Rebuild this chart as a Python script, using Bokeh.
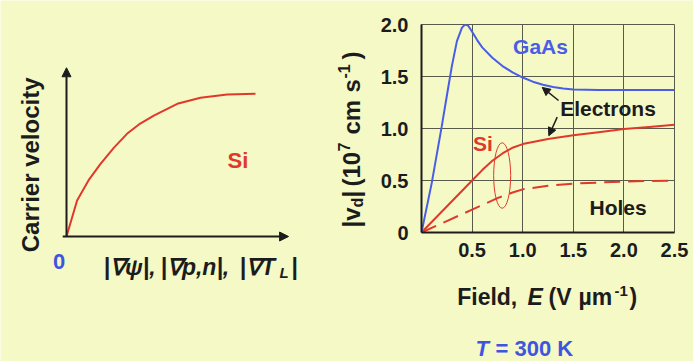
import math
from bokeh.plotting import figure
from bokeh.models import Label, Arrow, NormalHead, Range1d, FixedTicker, CustomJSTickFormatter
from bokeh.embed import file_html
from bokeh.resources import INLINE

BG = "#f4f9c6"
RED = "#e0392b"
BLUE = "#4a5de6"
TBLUE = "#3f55e0"
TXT = "#1c1c1c"
GRID = "#585b4a"
FONT = "Liberation Sans"

# ---------------- data ----------------
# left schematic: carrier velocity vs driving force (arbitrary units)
schem_force = [0, 0.056, 0.12, 0.18, 0.25, 0.32, 0.39, 0.462, 0.586, 0.709, 0.85, 1.0]
schem_vel = [0, 0.252, 0.40, 0.508, 0.62, 0.718, 0.79, 0.846, 0.928, 0.97, 0.993, 0.998]

# right: drift velocity (1e7 cm/s) vs field (V/um), T = 300 K
gaas_field = [0, 0.1, 0.2, 0.26, 0.3, 0.35, 0.4, 0.43, 0.46, 0.5, 0.55, 0.6, 0.7, 0.8,
              0.9, 1.0, 1.1, 1.2, 1.3, 1.4, 1.5, 1.75, 2.0, 2.25, 2.5]
gaas_vel = [0, 0.47, 1.02, 1.37, 1.6, 1.84, 1.97, 2.0, 1.99, 1.93, 1.85, 1.78, 1.68, 1.60,
            1.54, 1.49, 1.45, 1.42, 1.40, 1.385, 1.375, 1.37, 1.37, 1.37, 1.37]
si_e_field = [0, 0.25, 0.5, 0.6, 0.7, 0.8, 0.9, 1.0, 1.25, 1.5, 1.75, 2.0, 2.25, 2.5]
si_e_vel = [0, 0.25, 0.5, 0.6, 0.69, 0.76, 0.815, 0.85, 0.90, 0.935, 0.965, 0.995, 1.015, 1.035]
si_h_field = [0, 0.25, 0.5, 0.75, 0.9, 1.0, 1.25, 1.5, 1.75, 2.0, 2.25, 2.5]
si_h_vel = [0, 0.11, 0.22, 0.33, 0.385, 0.415, 0.45, 0.47, 0.48, 0.49, 0.495, 0.50]

x_ticks = [0.5, 1.0, 1.5, 2.0, 2.5]
x_tick_labels = ["0.5", "1.0", "1.5", "2.0", "2.5"]
y_ticks = [0, 0.5, 1.0, 1.5, 2.0]
y_tick_labels = ["0", "0.5", "1.0", "1.5", "2.0"]

# ---------------- base figure (schematic + free texts) ----------------
W, H = 693, 361
OX, OY, SX, SY = 66, 236, 189, 143          # schematic origin (px) and px per unit


def bx(px):
    return (px - OX) / SX


def by(py):
    return (OY - py) / SY


base = figure(width=W, height=H, output_backend="svg", toolbar_location=None,
              x_range=Range1d(bx(0), bx(W)), y_range=Range1d(by(H), by(0)),
              x_axis_type=None, y_axis_type=None,
              min_border=0, min_border_left=0, min_border_right=0,
              min_border_top=0, min_border_bottom=0)
base.background_fill_color = BG
base.border_fill_color = BG
base.outline_line_color = None
base.grid.visible = False

AX_LEN_X = 1.175
AX_LEN_Y = 1.18
head = dict(size=9, fill_color=TXT, line_color=TXT)
base.add_layout(Arrow(x_start=-0.02, y_start=0, x_end=AX_LEN_X, y_end=0, line_width=2,
                      line_color=TXT, end=NormalHead(**head)))
base.add_layout(Arrow(x_start=0, y_start=0, x_end=0, y_end=AX_LEN_Y, line_width=2,
                      line_color=TXT, end=NormalHead(**head)))
base.line(schem_force, schem_vel, line_color=RED, line_width=2)


def lab(fig, x, y, text, size="21px", color=TXT, style="bold", align="center",
        baseline="middle", angle=0.0):
    fig.add_layout(Label(x=x, y=y, text=text, text_font=FONT, text_font_size=size,
                         text_font_style=style, text_color=color, text_align=align,
                         text_baseline=baseline, angle=angle))


def blab(px, py, text, **kw):
    lab(base, bx(px), by(py), text, **kw)


A = math.pi / 2
# schematic texts
blab(30, 161, "Carrier  velocity", size="24px", angle=A)
blab(237.5, 160, "Si", size="22px", color=RED)
blab(58.5, 261, "0", size="22px", color=TBLUE)
blab(103, 266.7, "|∇ψ|,", size="23px", align="left", style="bold italic")
blab(160, 266.7, "|∇p,n|,", size="23px", align="left", style="bold italic")
blab(239, 266.7, "|∇T", size="23px", align="left", style="bold italic")
blab(279, 271.5, "L", size="15px", align="left", style="bold italic")
blab(291, 266.7, "|", size="23px", align="left")

# right-panel y axis title (rotated pieces)
blab(351, 227, "|v", size="24px", align="left", angle=A)
blab(357, 207, "d", size="16px", align="left", angle=A)
blab(351, 197, "|", size="24px", align="left", angle=A)
blab(351, 186, "(10", size="24px", align="left", angle=A)
blab(343, 151, "7", size="16px", align="left", angle=A)
blab(351, 134, "cm", size="24px", align="left", angle=A)
blab(351, 92, "s", size="24px", align="left", angle=A)
blab(343, 78, "-1", size="16px", align="left", angle=A)
blab(351, 59, ")", size="24px", align="left", angle=A)

# right-panel x axis title pieces
blab(456.7, 296, "Field,", size="23px", align="left")
blab(527, 296, "E", size="23px", align="left", style="bold italic")
blab(548, 296, "(V", size="23px", align="left")
blab(578, 296, "µm", size="23px", align="left")
blab(614, 290, "-1", size="15px", align="left")
blab(629, 296, ")", size="23px", align="left")

# temperature note
blab(475, 347.5, "T", size="22px", color=TBLUE, align="left", style="bold italic")
blab(495, 347.5, "= 300 K", size="22px", color=TBLUE, align="left")

# ---------------- right plot (real axes), overlaid at x = 340 ----------------
p = figure(width=353, height=361, output_backend="svg", toolbar_location=None,
           x_range=Range1d(0, 2.5), y_range=Range1d(0, 2.0),
           min_border_left=81, min_border_right=19, min_border_top=24, min_border_bottom=129,
           styles={"position": "absolute", "left": "340px", "top": "0px"})
p.background_fill_color = BG
p.border_fill_alpha = 0
p.outline_line_color = GRID
p.outline_line_width = 1

FMT_CODE = "const i = tvals.indexOf(tick); return i >= 0 ? tlabels[i] : '';"
p.xaxis.ticker = FixedTicker(ticks=x_ticks)
p.yaxis.ticker = FixedTicker(ticks=y_ticks)
p.xaxis.formatter = CustomJSTickFormatter(args=dict(tvals=x_ticks, tlabels=x_tick_labels),
                                          code=FMT_CODE)
p.yaxis.formatter = CustomJSTickFormatter(args=dict(tvals=y_ticks, tlabels=y_tick_labels),
                                          code=FMT_CODE)
for ax in (p.xaxis, p.yaxis):
    ax.axis_line_color = TXT
    ax.axis_line_width = 2
    ax.major_tick_out = 0
    ax.major_tick_in = 0
    ax.minor_tick_out = 0
    ax.minor_tick_in = 0
    ax.major_label_text_font = FONT
    ax.major_label_text_font_size = "20px"
    ax.major_label_text_font_style = "bold"
    ax.major_label_text_color = TXT
p.yaxis.major_label_standoff = 13
p.xaxis.major_label_standoff = 10

p.xgrid.ticker = FixedTicker(ticks=x_ticks[:-1])
p.ygrid.ticker = FixedTicker(ticks=y_ticks[1:-1])
p.grid.grid_line_color = GRID
p.grid.grid_line_width = 1

p.line(si_h_field, si_h_vel, line_color=RED, line_width=2, line_dash="16 8")
p.line(si_e_field, si_e_vel, line_color=RED, line_width=2)
p.line(gaas_field, gaas_vel, line_color=BLUE, line_width=2)

ELL_X, ELL_Y, ELL_W, ELL_H = 0.797, 0.548, 0.168, 0.63
p.ellipse(x=[ELL_X], y=[ELL_Y], width=[ELL_W], height=[ELL_H], fill_color=None,
          line_color=RED, line_width=1)

p.add_layout(Arrow(x_start=1.354, y_start=1.269, x_end=1.193, y_end=1.395, line_width=1.5,
                   line_color=TXT, end=NormalHead(size=8, fill_color=TXT, line_color=TXT)))
p.add_layout(Arrow(x_start=1.341, y_start=1.109, x_end=1.258, y_end=0.93, line_width=1.5,
                   line_color=TXT, end=NormalHead(size=8, fill_color=TXT, line_color=TXT)))

lab(p, 1.176, 1.788, "GaAs", color=BLUE)
lab(p, 1.843, 1.197, "Electrons")
lab(p, 0.608, 0.851, "Si", color=RED)
lab(p, 1.943, 0.236, "Holes")

html = file_html([base, p], INLINE)
open("out.html", "w").write(html)
